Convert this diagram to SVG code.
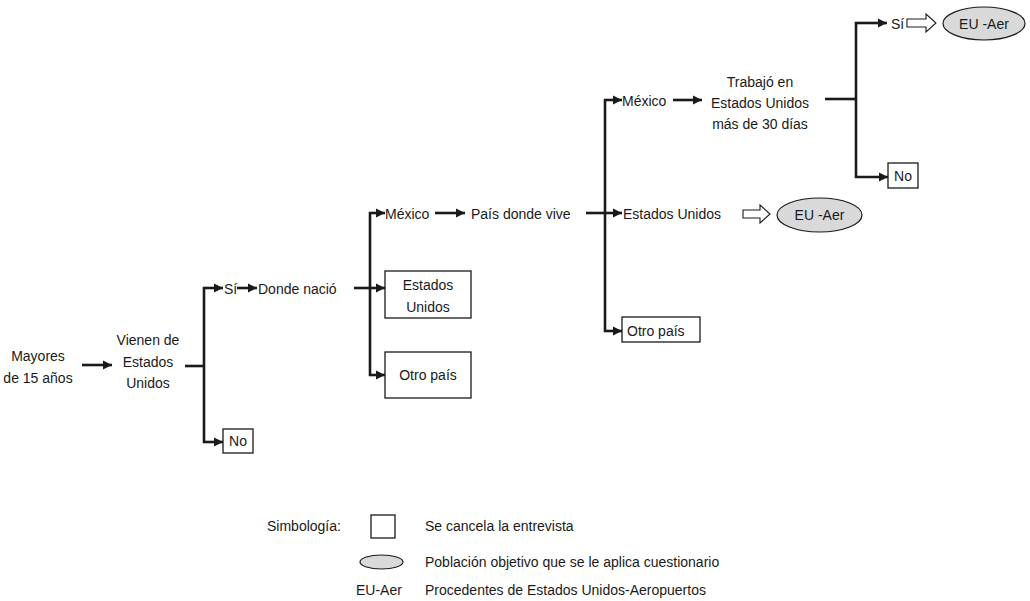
<svg xmlns="http://www.w3.org/2000/svg" width="1030" height="601" viewBox="0 0 1030 601">
<style>
text{font-family:"Liberation Sans",Arial,sans-serif;font-size:14px;fill:#1a1a1a}
.c{text-anchor:middle}
.ln{stroke:#1a1a1a;stroke-width:2.6;fill:none}
.ar{stroke:#1a1a1a;stroke-width:2.6;fill:none;marker-end:url(#ah)}
.box{fill:#fff;stroke:#1a1a1a;stroke-width:1.3}
.ell{fill:#d9d9d9;stroke:#1a1a1a;stroke-width:1.2}
.ho{fill:#fff;stroke:#1a1a1a;stroke-width:1.1}
</style>
<defs>
<marker id="ah" markerUnits="userSpaceOnUse" markerWidth="10" markerHeight="10" refX="9" refY="5" orient="auto">
<path d="M0,0.5 L9,5 L0,9.5 Z" fill="#1a1a1a"/>
</marker>
</defs>
<rect width="1030" height="601" fill="#fff"/>
<g id="connectors">
<line class="ar" x1="82" y1="365" x2="112" y2="365"/>
<line class="ln" x1="185" y1="366" x2="204" y2="366"/>
<line class="ln" x1="204" y1="287" x2="204" y2="443"/>
<line class="ar" x1="203" y1="288" x2="223" y2="288"/>
<line class="ar" x1="203" y1="442" x2="223" y2="442"/>
<line class="ar" x1="237" y1="288" x2="257" y2="288"/>
<line class="ln" x1="354" y1="288" x2="370" y2="288"/>
<line class="ln" x1="370" y1="212" x2="370" y2="376"/>
<line class="ar" x1="369" y1="213" x2="385" y2="213"/>
<line class="ar" x1="369" y1="288" x2="385" y2="288"/>
<line class="ar" x1="369" y1="375" x2="385" y2="375"/>
<line class="ar" x1="435" y1="213" x2="465" y2="213"/>
<line class="ln" x1="586" y1="213" x2="605" y2="213"/>
<line class="ln" x1="605" y1="99" x2="605" y2="332"/>
<line class="ar" x1="604" y1="100" x2="622" y2="100"/>
<line class="ar" x1="604" y1="213" x2="622" y2="213"/>
<line class="ar" x1="604" y1="331" x2="622" y2="331"/>
<line class="ar" x1="673" y1="100" x2="702" y2="100"/>
<line class="ln" x1="825" y1="99" x2="856" y2="99"/>
<line class="ln" x1="856" y1="22" x2="856" y2="178"/>
<line class="ar" x1="855" y1="23" x2="887" y2="23"/>
<line class="ar" x1="855" y1="177" x2="888" y2="177"/>
<path class="ho" d="M743,210 H760 V205 L770,214 L760,223 V218 H743 Z"/>
<path class="ho" d="M907,19 H926 V14 L936,23 L926,32 V27 H907 Z"/>
</g>
<g id="n-mayores"><text class="c" x="38" y="361">Mayores</text><text class="c" x="38" y="383">de 15 años</text></g>
<g id="n-vienen"><text class="c" x="148" y="345">Vienen de</text><text class="c" x="148" y="367">Estados</text><text class="c" x="148" y="388">Unidos</text></g>
<g id="n-si1"><text x="224" y="294">Sí</text></g>
<g id="n-no1"><rect class="box" x="223" y="429" width="30" height="24"/><text class="c" x="238" y="446">No</text></g>
<g id="n-donde"><text x="258" y="294">Donde nació</text></g>
<g id="n-mexico1"><text x="385" y="219">México</text></g>
<g id="n-eu-box"><rect class="box" x="385" y="271" width="86" height="47"/><text class="c" x="428" y="290">Estados</text><text class="c" x="428" y="312">Unidos</text></g>
<g id="n-otro1"><rect class="box" x="385" y="352" width="86" height="46"/><text class="c" x="428" y="380">Otro país</text></g>
<g id="n-pais"><text x="471" y="219">País donde vive</text></g>
<g id="n-mexico2"><text x="622" y="106">México</text></g>
<g id="n-eu2"><text x="623" y="219">Estados Unidos</text></g>
<g id="n-otro2"><rect class="box" x="622" y="317" width="78" height="25"/><text x="627" y="336">Otro país</text></g>
<g id="n-ell2"><ellipse class="ell" cx="819.5" cy="215" rx="42.5" ry="17"/><text class="c" x="819.5" y="220">EU -Aer</text></g>
<g id="n-trabajo"><text class="c" x="760" y="87">Trabajó en</text><text class="c" x="760" y="108">Estados Unidos</text><text class="c" x="760" y="129">más de 30 días</text></g>
<g id="n-si2"><text x="891" y="29">Sí</text></g>
<g id="n-ell1"><ellipse class="ell" cx="984" cy="23.5" rx="41" ry="16.5"/><text class="c" x="984" y="29">EU -Aer</text></g>
<g id="n-no2"><rect class="box" x="888" y="163" width="30" height="25"/><text class="c" x="903" y="181">No</text></g>
<g id="legend">
<text x="267" y="531">Simbología:</text>
<rect class="box" x="371" y="515" width="24" height="23"/>
<text x="425" y="531">Se cancela la entrevista</text>
<ellipse class="ell" cx="381.5" cy="562" rx="21.5" ry="7"/>
<text x="425" y="567">Población objetivo que se le aplica cuestionario</text>
<text x="356" y="595">EU-Aer</text>
<text x="425" y="595">Procedentes de Estados Unidos-Aeropuertos</text>
</g>
</svg>
